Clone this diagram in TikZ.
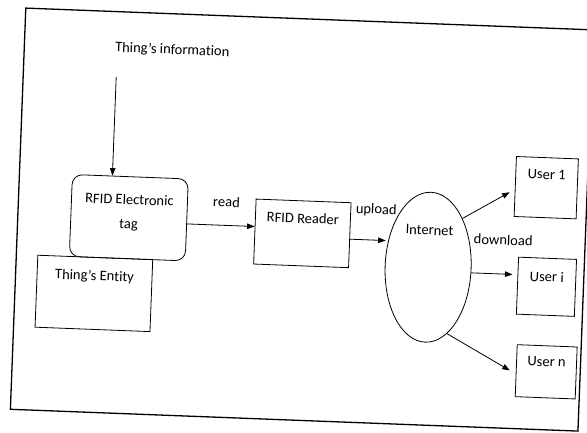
\documentclass[tikz,border=0pt]{standalone}
\usepackage{fontspec}
\setmainfont{Carlito}[Ligatures={TeX,NoCommon}]
\usetikzlibrary{shapes.geometric,arrows.meta}
\begin{document}
\begin{tikzpicture}[x=1pt,y=-1pt,
  box/.style={draw, line width=0.8pt, inner sep=0pt},
  txt/.style={font=\fontsize{14.5}{16}\selectfont, inner sep=0pt},
  arr/.style={line width=0.8pt, -{Triangle[length=7.5pt,width=5.5pt]}},
  frame/.style={line width=1.3pt}]
\useasboundingbox (0,0) rectangle (587,433);
\begin{scope}[rotate around={-2.2:(293,216)}, transform shape]
  \draw[frame] (18,18.5) rectangle (586,420);
  \node[txt] (info) at (166,55) {Thing's information};
  \node[box, rounded corners=10pt, minimum width=116, minimum height=82] (tag) at (129,224) {};
  \node[txt, align=center] (tagtxt) at (129,219) {RFID Electronic\\[8pt]tag};
  \node[box, minimum width=115, minimum height=72] (ent) at (97,301) {};
  \node[txt] (enttxt) at (97,284) {Thing's Entity};
  \node[box, minimum width=95, minimum height=65] (reader) at (303,233) {};
  \node[txt] (readertxt) at (303,218) {RFID Reader};
  \node[box, ellipse, minimum width=86, minimum height=150] (inet) at (430,262) {};
  \node[txt] (inettxt) at (430,225) {Internet};
  \node[box, minimum width=62, minimum height=60] (u1) at (545,178) {};
  \node[txt] (u1txt) at (545,165) {User 1};
  \node[box, minimum width=58, minimum height=57] (ui) at (549,277) {};
  \node[txt] (uitxt) at (549,267) {User i};
  \node[box, minimum width=60, minimum height=52] (un) at (552,362) {};
  \node[txt] (untxt) at (552,352) {User n};
  \node[txt] (readlbl) at (226,204.5) {read};
  \node[txt] (uplbl) at (376,207) {upload};
  \node[txt] (downlbl) at (504,232) {download};
  \coordinate (infoarr) at (111,84);
  \draw[arr] (infoarr) -- (infoarr |- tag.north);
  \draw[arr] ([yshift=-4pt]tag.east) -- ([yshift=-4pt]tag.east -| reader.west);
  \draw[arr] ([yshift=-4pt]reader.east) -- ([yshift=-4pt]reader.east -| inet.west);
  \draw[arr] (inet.57) -- ([xshift=-5pt,yshift=-6pt]u1.west);
  \draw[arr, shorten >=5pt] ([yshift=-4pt]inet.east) -- ([yshift=-4pt]inet.east -| ui.west);
  \draw[arr] (inet.-72) -- ([xshift=-6pt]un.west);
\end{scope}
\end{tikzpicture}
\end{document}
